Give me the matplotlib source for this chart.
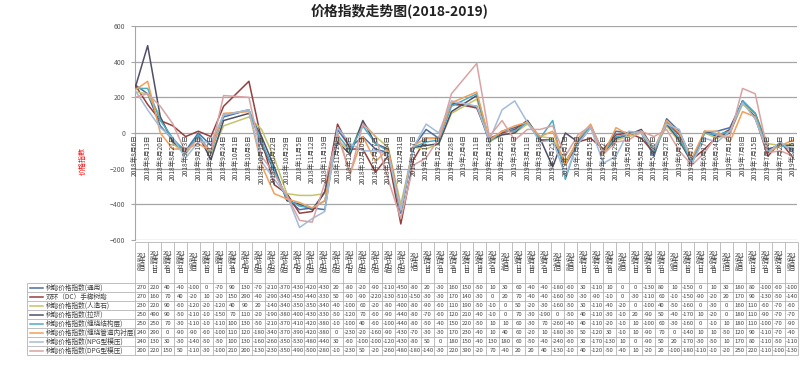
import numpy as np
import pandas as pd
import matplotlib
matplotlib.use('Agg')
import matplotlib.pyplot as plt

plt.rcParams['font.family'] = ['Noto Sans CJK SC', 'DejaVu Sans']

# weekly price index, 2018-08-06 .. 2019-08-05 (no data for 10/1 and 2/4)
dates = ['2018-08-06', '2018-08-13', '2018-08-20', '2018-08-27', '2018-09-03', '2018-09-10',
         '2018-09-17', '2018-09-24', '2018-10-08', '2018-10-15', '2018-10-22', '2018-10-29',
         '2018-11-05', '2018-11-12', '2018-11-19', '2018-11-26', '2018-12-03', '2018-12-10',
         '2018-12-17', '2018-12-24', '2018-12-31', '2019-01-07', '2019-01-14', '2019-01-21',
         '2019-01-28', '2019-02-11', '2019-02-18', '2019-02-25', '2019-03-04', '2019-03-11',
         '2019-03-18', '2019-03-25', '2019-04-01', '2019-04-08', '2019-04-15', '2019-04-22',
         '2019-04-29', '2019-05-06', '2019-05-13', '2019-05-20', '2019-05-27', '2019-06-03',
         '2019-06-10', '2019-06-17', '2019-06-24', '2019-07-01', '2019-07-08', '2019-07-15',
         '2019-07-22', '2019-07-29', '2019-08-05']

names = ['树脂价格指数(通用)', '双环（DC）手糊树脂', '树脂价格指数(人造石)', '树脂价格指数(拉挤)',
         '树脂价格指数(缠绕结构层)', '树脂价格指数(缠绕管道内衬层)', '树脂价格指数(NPG型模压)',
         '树脂价格指数(DPG型模压)']

tongyong = [270, 220, 40, -40, -100, 0, -70, 90, 130, -70,
            -210, -370, -430, -420, -430, 20, -80, -20, -90, -110, -450, -80, 20, -30, 160, 150, -50, 10, 30, 60,
            -40, -40, -180, -60, 30, -110, 10, 0, 0, -130, 80, 10, -150, 0, 10, 30, 180, 80, -100, -60, -100]
dc = [270, 160, 70, 40, -20, 10, -20, 150, 290, -40,
      -290, -340, -450, -440, -330, 50, -90, -90, -220, -130, -510, -150, -30, -30, 170, 140, -30, 0, 20, 70,
      -40, -40, -160, -50, -30, -90, -10, 0, -30, -110, 60, -10, -150, -90, -20, 20, 170, 90, -130, -50, -140]
renzaoshi = [230, 220, 90, -60, -120, -20, -120, 40, 90, 20,
             -140, -340, -350, -350, -340, -40, -100, 60, -20, -80, -400, -80, -90, -60, 110, 190, -50, -10, 0, 50,
             -20, -30, -160, -50, 30, -110, -40, -20, 0, -100, 40, -50, -160, 0, -30, 0, 160, 110, -60, -70, -60]
laji = [250, 490, 90, -50, -110, -10, -150, 70, 110, -20,
        -190, -380, -400, -430, -330, -50, -120, 70, -60, -90, -440, -80, -70, -60, 120, 210, -40, -10, 0, 70,
        -30, -190, 0, -50, 40, -110, -30, -10, 20, -90, 50, -40, -170, 10, -20, 0, 180, 110, -90, -70, -70]
chanrao = [250, 250, 70, -30, -110, -10, -110, 100, 130, -50,
           -210, -370, -410, -420, -380, -10, -100, 40, -60, -100, -440, -80, -50, -40, 150, 220, -50, 10, 10, 60,
           -30, 70, -260, -40, 40, -110, -20, -10, 10, -100, 60, -30, -160, 0, -10, 10, 180, 110, -100, -70, -90]
neichen = [240, 290, 0, -90, -90, -60, -100, 110, 120, -180,
           -340, -370, -390, -420, -380, 0, -230, -20, -160, -90, -430, -70, -30, -30, 170, 230, -40, 10, 40, 60,
           -20, 10, -180, -30, 50, -120, 30, -10, 10, -90, 70, 0, -140, 10, 10, -50, 120, 90, -110, -70, -40]
npg = [240, 130, 30, -30, -140, -50, -50, 100, 130, -160,
       -260, -350, -530, -480, -440, 30, -60, -100, -100, -120, -430, -80, 50, 0, 180, 150, -40, 130, 180, 60,
       -50, -40, -240, -60, 30, -170, -130, 10, 0, -90, 50, 20, -170, -30, -50, 10, 170, 80, -110, -50, -110]
dpg = [200, 220, 150, 50, -110, -30, -100, 210, 200, -130,
       -230, -350, -490, -500, -280, -10, -230, 50, -20, -260, -480, -180, -140, -30, 220, 390, -20, 70, -40, 20,
       20, 40, -130, -10, 40, -120, -50, -40, 10, -20, 20, -100, -180, -110, -10, -20, 250, 220, -110, -100, -130]

series = [tongyong, dc, renzaoshi, laji, chanrao, neichen, npg, dpg]
colors = ['#4a6fa5', '#94403e', '#c4c46a', '#4f4f68', '#4bacc6', '#f0a05a', '#a3bcd9', '#d9a3a3']

W, H = 800, 369
fig = plt.figure(figsize=(W / 100, H / 100), dpi=100)

# background axes in pixel coords for the data table and loose texts
tb = fig.add_axes([0, 0, 1, 1])
tb.set_xlim(0, W)
tb.set_ylim(H, 0)
tb.axis('off')

ax = fig.add_axes([135 / W, 1 - 240 / H, 662 / W, 214 / H])
ax.patch.set_alpha(0)

d = pd.to_datetime(dates)
xx = (d - d[0]).days / 7.0
for vals, c in zip(series, colors):
    ax.plot(xx, vals, color=c, lw=1.1, zorder=3)

ax.set_xlim(0, 52.3)
ax.set_ylim(-600, 600)
ax.set_yticks(range(-600, 601, 200))
ax.set_xticks([])
ax.grid(axis='y', color='#a6a6a6', lw=0.9)
ax.set_axisbelow(True)
for s in ['top', 'right', 'bottom']:
    ax.spines[s].set_visible(False)
ax.spines['left'].set_color('#a6a6a6')
ax.tick_params(axis='y', length=3, color='#a6a6a6', labelsize=5, labelcolor='#595959', pad=4)

# date labels along the zero line, one per week
weeks = pd.date_range(d[0], d[-1], freq='7D')
for i, w in enumerate(weeks):
    ax.text(i, -8, '%d年%d月%d日' % (w.year, w.month, w.day), rotation=90, ha='center', va='top',
            fontsize=4.8, color='#404040', zorder=5)

fig.text(0.5, 1 - 11 / H, '价格指数走势图(2018-2019)', fontsize=10, fontweight='bold',
         ha='center', va='center', color='#222222')
fig.text(83 / W, 1 - 161 / H, '价格指数', rotation=90, color='red', fontsize=5, ha='center', va='center')


def wrap(s, width=3):
    lines, cur, n = [], '', 0
    for ch in s:
        w = 1 if ch.isascii() else 2
        if n + w > width:
            lines.append(cur)
            cur, n = '', 0
        cur += ch
        n += w
    lines.append(cur)
    return '\n'.join(lines)


# data table
x0, x1 = 135, 798
cw = (x1 - x0) / len(dates)
ht, hb, rh = 242, 283, 9
lx = 27
yb = hb + rh * len(series)
gc = '#b4b4b4'

tb.hlines(ht, x0, x1, color=gc, lw=0.6)
for k in range(len(series) + 1):
    tb.hlines(hb + k * rh, lx, x1, color=gc, lw=0.6)
for j in range(len(dates) + 1):
    tb.vlines(x0 + j * cw, ht, yb, color=gc, lw=0.6)
tb.vlines(lx, hb, yb, color=gc, lw=0.6)

for j, dt in enumerate(d):
    cx = x0 + (j + 0.5) * cw
    tb.text(cx, (ht + hb) / 2, wrap('%d年%d月%d日' % (dt.year, dt.month, dt.day)), ha='center', va='center',
            fontsize=4.3, color='#404040', linespacing=0.9)

for k, (nm, vals, c) in enumerate(zip(names, series, colors)):
    cy = hb + (k + 0.5) * rh
    tb.plot([lx + 3, lx + 16], [cy, cy], color=c, lw=1.1)
    tb.text(lx + 19, cy, nm, ha='left', va='center', fontsize=4.8, color='#404040')
    for j, v in enumerate(vals):
        tb.text(x0 + (j + 0.5) * cw, cy, str(v), ha='center', va='center', fontsize=4.3, color='#404040')

fig.savefig('out.png', dpi=100)
